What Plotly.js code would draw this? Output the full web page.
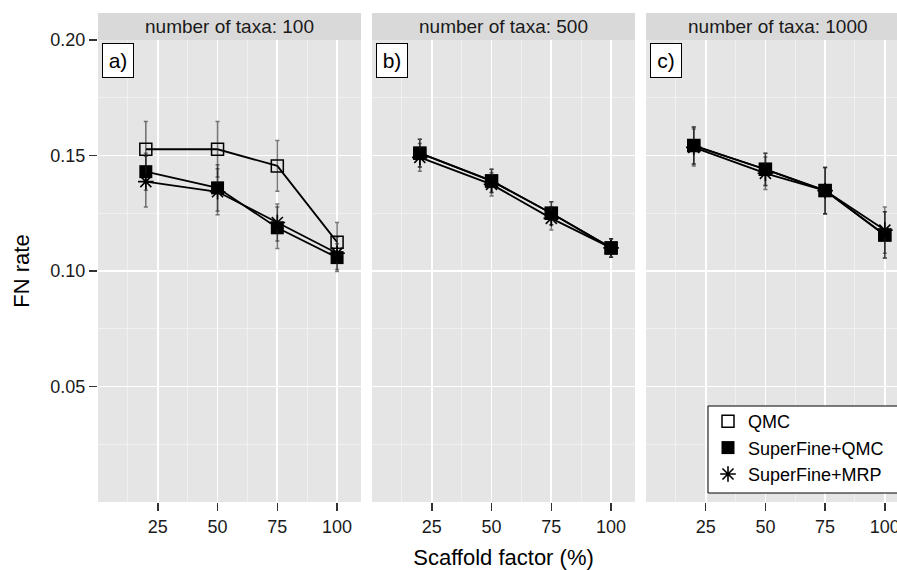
<!DOCTYPE html>
<html>
<head>
<meta charset="utf-8">
<script src="https://cdn.plot.ly/plotly-3.0.1.min.js"></script>
<style>html,body{margin:0;padding:0;background:#fff;}#chart{width:897px;height:570px;}</style>
</head>
<body>
<div id="chart"></div>
<script>
// ---- data ----
const scaffold = [20, 50, 75, 100];
const panelTitles = ["number of taxa: 100", "number of taxa: 500", "number of taxa: 1000"];
const panelLabels = ["a)", "b)", "c)"];
const methods = ["QMC", "SuperFine+QMC", "SuperFine+MRP"];

const qmc_100 = [0.1527, 0.1527, 0.1455, 0.1125];
const qmc_100_err = [0.012, 0.012, 0.011, 0.0085];
const sfqmc_100 = [0.1430, 0.1360, 0.1187, 0.1058];
const sfqmc_100_err = [0.008, 0.010, 0.009, 0.006];
const sfmrp_100 = [0.1387, 0.1343, 0.1210, 0.1077];
const sfmrp_100_err = [0.011, 0.010, 0.008, 0.007];

const qmc_500 = [0.1510, 0.1390, 0.1250, 0.1100];
const qmc_500_err = [0.006, 0.005, 0.005, 0.004];
const sfqmc_500 = [0.1510, 0.1390, 0.1250, 0.1100];
const sfqmc_500_err = [0.006, 0.005, 0.005, 0.004];
const sfmrp_500 = [0.1492, 0.1375, 0.1228, 0.1100];
const sfmrp_500_err = [0.006, 0.005, 0.005, 0.004];

const qmc_1000 = [0.1543, 0.1440, 0.1348, 0.1156];
const qmc_1000_err = [0.008, 0.007, 0.010, 0.010];
const sfqmc_1000 = [0.1543, 0.1440, 0.1348, 0.1156];
const sfqmc_1000_err = [0.008, 0.007, 0.010, 0.010];
const sfmrp_1000 = [0.1535, 0.1423, 0.1348, 0.1177];
const sfmrp_1000_err = [0.008, 0.007, 0.010, 0.010];

const xTicks = [25, 50, 75, 100];
const yTicks = [0.05, 0.10, 0.15, 0.20];

// ---- build ----
const panels = [
  [[qmc_100, qmc_100_err], [sfqmc_100, sfqmc_100_err], [sfmrp_100, sfmrp_100_err]],
  [[qmc_500, qmc_500_err], [sfqmc_500, sfqmc_500_err], [sfmrp_500, sfmrp_500_err]],
  [[qmc_1000, qmc_1000_err], [sfqmc_1000, sfqmc_1000_err], [sfmrp_1000, sfmrp_1000_err]]
];
const markerStyles = [
  {symbol: "square-open", size: 12, color: "#000", line: {width: 1.5, color: "#000"}},
  {symbol: "square", size: 13, color: "#000", line: {width: 0, color: "#000"}},
  {symbol: "asterisk-open", size: 13, color: "#000", line: {width: 1.6, color: "#000"}}
];
const axNames = ["x", "x2", "x3"];
const traces = [];
panels.forEach((series, p) => {
  series.forEach(([vals, errs], m) => {
    traces.push({
      type: "scatter", mode: "lines", x: scaffold, y: vals,
      xaxis: axNames[p], yaxis: "y",
      line: {color: "#000", width: 1.8}, showlegend: false, hoverinfo: "skip"
    });
  });
  series.forEach(([vals, errs], m) => {
    traces.push({
      type: "scatter", mode: "markers", x: scaffold, y: vals,
      xaxis: axNames[p], yaxis: "y",
      name: methods[m], legendgroup: methods[m], showlegend: p === 0,
      marker: markerStyles[m],
      error_y: {type: "data", array: errs, visible: true, color: "rgba(30,30,30,0.6)", thickness: 1.5, width: 2}
    });
  });
});

const L = 98, W = 897, plotW = W - L;
const doms = [[0, 263 / plotW], [274 / plotW, 537 / plotW], [548 / plotW, 1]];
const ranges = [[0, 110], [0, 110], [0, 105.1]];
const font = "Liberation Sans, Arial, sans-serif";

function xAxis(i) {
  const ax = {
    domain: doms[i], range: ranges[i], anchor: "y",
    tickmode: "array", tickvals: xTicks, ticktext: xTicks.map(String),
    ticks: "outside", ticklen: 8, tickwidth: 1.5, tickcolor: "#333",
    tickfont: {family: font, size: 18, color: "#1a1a1a"},
    ticklabeloverflow: "allow",
    showgrid: true, gridcolor: "#ffffff", gridwidth: 1.7,
    minor: {tickmode: "array", tickvals: [12.5, 37.5, 62.5, 87.5], showgrid: true, gridcolor: "#f2f2f2", gridwidth: 0.8, ticks: ""},
    zeroline: false, showline: false, fixedrange: true, automargin: false
  };
  if (i === 1) ax.title = {text: "Scaffold factor (%)", font: {family: font, size: 22, color: "#000"}, standoff: 16};
  return ax;
}

const shapes = [], annotations = [];
for (let i = 0; i < 3; i++) {
  const xr = (i === 0 ? "x" : "x" + (i + 1)) + " domain";
  shapes.push({type: "rect", xref: xr, yref: "paper", x0: 0, x1: i === 2 ? 1.05 : 1, y0: 1.0, y1: 1 + 27 / 462,
    fillcolor: "#d9d9d9", line: {width: 0}, layer: "below"});
  annotations.push({xref: xr, yref: "paper", x: i === 2 ? 0.5 * (263 / 251) : 0.5, y: 1 + 13.5 / 462,
    text: panelTitles[i], showarrow: false, xanchor: "center", yanchor: "middle",
    font: {family: font, size: 19, color: "#1a1a1a"}});
  annotations.push({xref: xr, yref: "y domain", x: 4 / (i === 2 ? 251 : 263), y: 1 - 3 / 462,
    xanchor: "left", yanchor: "top", text: panelLabels[i], showarrow: false,
    font: {family: font, size: 21, color: "#000"}, bgcolor: "#ffffff",
    bordercolor: "#000", borderwidth: 1, borderpad: 3, width: 24, height: 27});
}
// legend frame (extends past the right edge as in the reference)
shapes.push({type: "rect", xref: "paper", yref: "paper",
  x0: (708 - L) / plotW, x1: 1.03, y0: (502 - 493) / 462, y1: (502 - 406) / 462,
  fillcolor: "#ffffff", line: {color: "#000", width: 1}, layer: "above"});

const layout = {
  width: 897, height: 570,
  margin: {l: L, r: 0, t: 40, b: 68},
  paper_bgcolor: "#ffffff", plot_bgcolor: "#e5e5e5",
  font: {family: font, color: "#000"},
  xaxis: xAxis(0), xaxis2: xAxis(1), xaxis3: xAxis(2),
  yaxis: {
    domain: [0, 1], range: [0, 0.2], anchor: "x",
    tickmode: "array", tickvals: yTicks, ticktext: yTicks.map(v => v.toFixed(2)),
    ticks: "outside", ticklen: 8, tickwidth: 1.5, tickcolor: "#333",
    tickfont: {family: font, size: 18, color: "#1a1a1a"},
    showgrid: true, gridcolor: "#ffffff", gridwidth: 1.7,
    minor: {tickmode: "array", tickvals: [0.025, 0.075, 0.125, 0.175], showgrid: true, gridcolor: "#f2f2f2", gridwidth: 0.8, ticks: ""},
    zeroline: false, showline: false, fixedrange: true, automargin: false,
    title: {text: "FN rate", font: {family: font, size: 22, color: "#000"}, standoff: 14}
  },
  showlegend: true,
  legend: {
    x: (708 - L) / plotW, y: (502 - 403) / 462, xanchor: "left", yanchor: "top",
    bgcolor: "rgba(0,0,0,0)", borderwidth: 0,
    font: {family: font, size: 18, color: "#000"}, tracegroupgap: 0, itemclick: false
  },
  shapes: shapes, annotations: annotations
};

Plotly.newPlot("chart", traces, layout, {staticPlot: true, displayModeBar: false});
</script>
</body>
</html>
